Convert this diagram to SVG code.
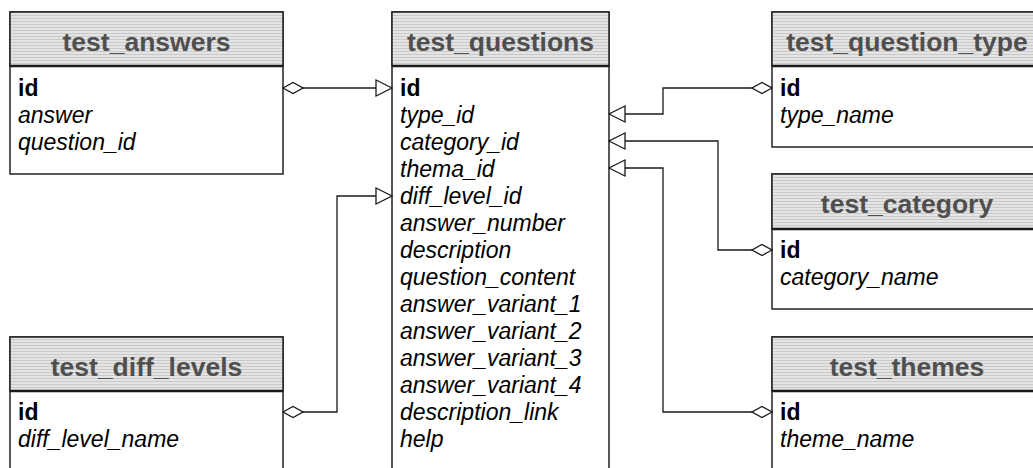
<svg xmlns="http://www.w3.org/2000/svg" width="1033" height="468" viewBox="0 0 1033 468">
  <defs>
    <pattern id="stripes" patternUnits="userSpaceOnUse" width="8" height="3">
      <rect width="8" height="3" fill="#e4e4e4"/>
      <rect width="8" height="1" fill="#c9c9c9"/>
    </pattern>
    <marker id="diamond" markerUnits="userSpaceOnUse" viewBox="-1 -7 22 14" refX="0" refY="0" markerWidth="22" markerHeight="14" orient="auto">
      <path d="M0,0 L10,-5.5 L20,0 L10,5.5 Z" fill="#fff" stroke="#1a1a1a" stroke-width="1.3"/>
    </marker>
    <marker id="tri" markerUnits="userSpaceOnUse" viewBox="-18 -10 20 20" refX="0" refY="0" markerWidth="20" markerHeight="20" orient="auto">
      <path d="M0,0 L-16,-8 L-16,8 Z" fill="#fff" stroke="#1a1a1a" stroke-width="1.3"/>
    </marker>
    <style>
      .body { fill: #fff; stroke: #222; stroke-width: 1.5; }
      .head { fill: url(#stripes); stroke: #222; stroke-width: 1.5; }
      .sep { stroke: #1a1a1a; stroke-width: 2.5; }
      .title { font-family: "Liberation Sans", Arial, sans-serif; font-weight: bold; font-size: 26.5px; fill: #4f4f4f; text-anchor: middle; }
      .pk { font-family: "Liberation Sans", Arial, sans-serif; font-weight: bold; font-size: 23px; fill: #000; }
      .col { font-family: "Liberation Sans", Arial, sans-serif; font-style: italic; font-size: 23px; fill: #000; }
      .link { fill: none; stroke: #1a1a1a; stroke-width: 1.3; marker-start: url(#diamond); marker-end: url(#tri); }
    </style>
  </defs>

  <!-- tables -->
  <g id="test_answers">
    <rect class="body" x="10" y="12" width="273" height="162"/>
    <rect class="head" x="10" y="12" width="273" height="54"/>
    <line class="sep" x1="10" y1="66" x2="283" y2="66"/>
    <text class="title" x="146.5" y="51">test_answers</text>
    <text class="pk" x="18" y="96">id</text>
    <text class="col" x="18" y="123">answer</text>
    <text class="col" x="18" y="150">question_id</text>
  </g>

  <g id="test_questions">
    <rect class="body" x="392" y="12" width="217" height="470"/>
    <rect class="head" x="392" y="12" width="217" height="54"/>
    <line class="sep" x1="392" y1="66" x2="609" y2="66"/>
    <text class="title" x="500.5" y="51">test_questions</text>
    <text class="pk" x="400" y="96">id</text>
    <text class="col" x="400" y="123">type_id</text>
    <text class="col" x="400" y="150">category_id</text>
    <text class="col" x="400" y="177">thema_id</text>
    <text class="col" x="400" y="204">diff_level_id</text>
    <text class="col" x="400" y="231">answer_number</text>
    <text class="col" x="400" y="258">description</text>
    <text class="col" x="400" y="285">question_content</text>
    <text class="col" x="400" y="312">answer_variant_1</text>
    <text class="col" x="400" y="339">answer_variant_2</text>
    <text class="col" x="400" y="366">answer_variant_3</text>
    <text class="col" x="400" y="393">answer_variant_4</text>
    <text class="col" x="400" y="420">description_link</text>
    <text class="col" x="400" y="447">help</text>
  </g>

  <g id="test_question_type">
    <rect class="body" x="772" y="12" width="270" height="135"/>
    <rect class="head" x="772" y="12" width="270" height="54"/>
    <line class="sep" x1="772" y1="66" x2="1042" y2="66"/>
    <text class="title" x="907" y="51">test_question_type</text>
    <text class="pk" x="780" y="96">id</text>
    <text class="col" x="780" y="123">type_name</text>
  </g>

  <g id="test_category">
    <rect class="body" x="772" y="174" width="270" height="135"/>
    <rect class="head" x="772" y="174" width="270" height="55"/>
    <line class="sep" x1="772" y1="229" x2="1042" y2="229"/>
    <text class="title" x="907" y="213">test_category</text>
    <text class="pk" x="780" y="258">id</text>
    <text class="col" x="780" y="285">category_name</text>
  </g>

  <g id="test_themes">
    <rect class="body" x="772" y="337" width="270" height="145"/>
    <rect class="head" x="772" y="337" width="270" height="54"/>
    <line class="sep" x1="772" y1="391" x2="1042" y2="391"/>
    <text class="title" x="907" y="376">test_themes</text>
    <text class="pk" x="780" y="420">id</text>
    <text class="col" x="780" y="447">theme_name</text>
  </g>

  <g id="test_diff_levels">
    <rect class="body" x="10" y="337" width="273" height="145"/>
    <rect class="head" x="10" y="337" width="273" height="54"/>
    <line class="sep" x1="10" y1="391" x2="283" y2="391"/>
    <text class="title" x="146.5" y="376">test_diff_levels</text>
    <text class="pk" x="18" y="420">id</text>
    <text class="col" x="18" y="447">diff_level_name</text>
  </g>

  <!-- relations: diamond on the referenced key, open arrow on the foreign key -->
  <g id="connectors">
    <path class="link" d="M283,88 H392"/>
    <path class="link" d="M283,412 H337 V196 H392"/>
    <path class="link" d="M772,88 H663 V114 H609"/>
    <path class="link" d="M772,250 H718 V141 H609"/>
    <path class="link" d="M772,412 H663 V168 H609"/>
  </g>
</svg>
